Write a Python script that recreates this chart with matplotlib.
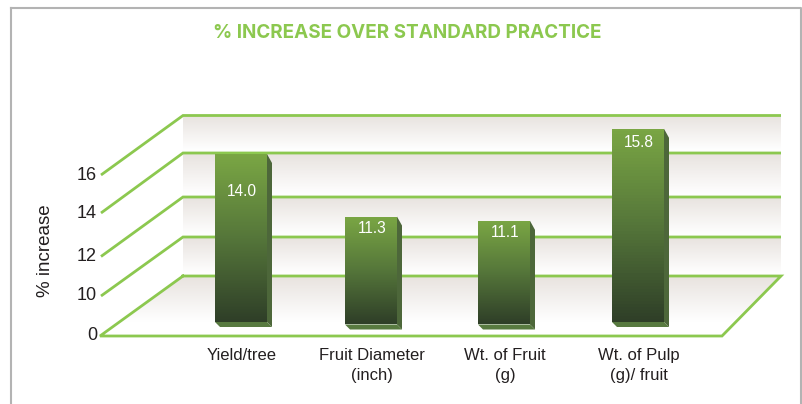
import numpy as np
import matplotlib
matplotlib.use('Agg')
import matplotlib.pyplot as plt
from matplotlib.colors import LinearSegmentedColormap
from matplotlib.patches import Polygon

# data
categories = ['Yield/tree', 'Fruit Diameter\n(inch)', 'Wt. of Fruit\n(g)', 'Wt. of Pulp\n(g)/ fruit']
values = [14.0, 11.3, 11.1, 15.8]
tick_values = [0, 10, 12, 14, 16]

# layout, figure pixels (the axis is not linear, each tick has its own spot)
front_y = [336, 296, 256.5, 213, 175]
back_y = [276, 237, 197, 153, 115.5]
bar_px = [0, 80, 123, 168, 196]   # height above base for tick_values
bar_left = [215, 345, 478, 612]
bar_base = [322, 324.5, 324.5, 322]
label_drop = [38, 12, 12, 14]
bar_w = 52
depth = 5

GREEN = '#8cc84f'
wall_cmap = LinearSegmentedColormap.from_list('wall', ['#e8e3df', '#ffffff'])
bar_cmap = LinearSegmentedColormap.from_list('bar', ['#7aa644', '#55763a', '#2f3f28'])
plt.rcParams['font.family'] = ['Liberation Sans', 'DejaVu Sans']

fig = plt.figure(figsize=(8.03, 4.04), dpi=100)
ax = fig.add_axes([0, 0, 1, 1])
grad = np.linspace(0, 1, 64).reshape(-1, 1)


def fill_grad(verts, top, bottom, cmap, z):
    xs = [v[0] for v in verts]
    im = ax.imshow(grad, cmap=cmap, extent=(min(xs), max(xs), bottom, top), aspect='auto', zorder=z)
    clip = Polygon(verts, closed=True, transform=ax.transData, fc='none', ec='none')
    ax.add_patch(clip)
    im.set_clip_path(clip)


# walls
for i in range(1, len(back_y)):
    top = back_y[i]
    bottom = back_y[i - 1]
    fill_grad([(183, top), (781, top), (781, bottom), (183, bottom)], top, bottom - 2, wall_cmap, 1)
# floor
fill_grad([(183, 276), (781, 276), (722, 336), (100, 336)], 276, 322, wall_cmap, 1)

# grid lines
for fy, by in zip(front_y[1:], back_y[1:]):
    ax.plot([101, 183, 781], [fy, by, by], color=GREEN, lw=2, zorder=2, solid_capstyle='butt', solid_joinstyle='miter')
ax.plot([183, 781, 722, 100, 183], [276, 276, 336, 336, 276], color=GREEN, lw=2, zorder=2, solid_joinstyle='miter')

# bars
for cat, val, x0, base, drop in zip(categories, values, bar_left, bar_base, label_drop):
    top = base - np.interp(val, tick_values, bar_px)
    x1 = x0 + bar_w
    ax.add_patch(Polygon([(x1, top), (x1 + depth, top + 9), (x1 + depth, base + 5), (x1, base)], fc='#4d673a', ec='none', zorder=3))
    ax.add_patch(Polygon([(x0, base), (x1, base), (x1 + depth, base + 5), (x0 + depth, base + 5)], fc='#587a40', ec='none', zorder=3))
    fill_grad([(x0, top), (x1, top), (x1, base), (x0, base)], top, base, bar_cmap, 4)
    ax.text(x0 + bar_w / 2 + 1, top + drop, '%.1f' % val, color='white', fontsize=11.2, ha='center', va='center', zorder=5)
    ax.text(x0 + bar_w / 2 + 1, 348, cat, color='#231f20', fontsize=12, ha='center', va='top', linespacing=1.4, zorder=5)

# axis text
for v, fy in zip(tick_values, front_y):
    ax.text(97, fy, str(v), color='#231f20', fontsize=13, ha='right', va='center')
ax.text(46, 251, '% increase', color='#231f20', fontsize=13.5, rotation=90, ha='center', va='center')
ax.text(407, 33, '% INCREASE OVER STANDARD PRACTICE', color=GREEN, fontsize=13.6, fontweight='bold',
        family=['Inter', 'DejaVu Sans'], ha='center', va='center')

# frame of the panel
ax.plot([11, 11], [8, 404], color='#b3b3b3', lw=1.5)
ax.plot([11, 801, 801], [8, 8, 404], color='#b3b3b3', lw=1.5)

ax.set_xlim(0, 803)
ax.set_ylim(404, 0)
ax.axis('off')
fig.savefig('out.png', dpi=100)
